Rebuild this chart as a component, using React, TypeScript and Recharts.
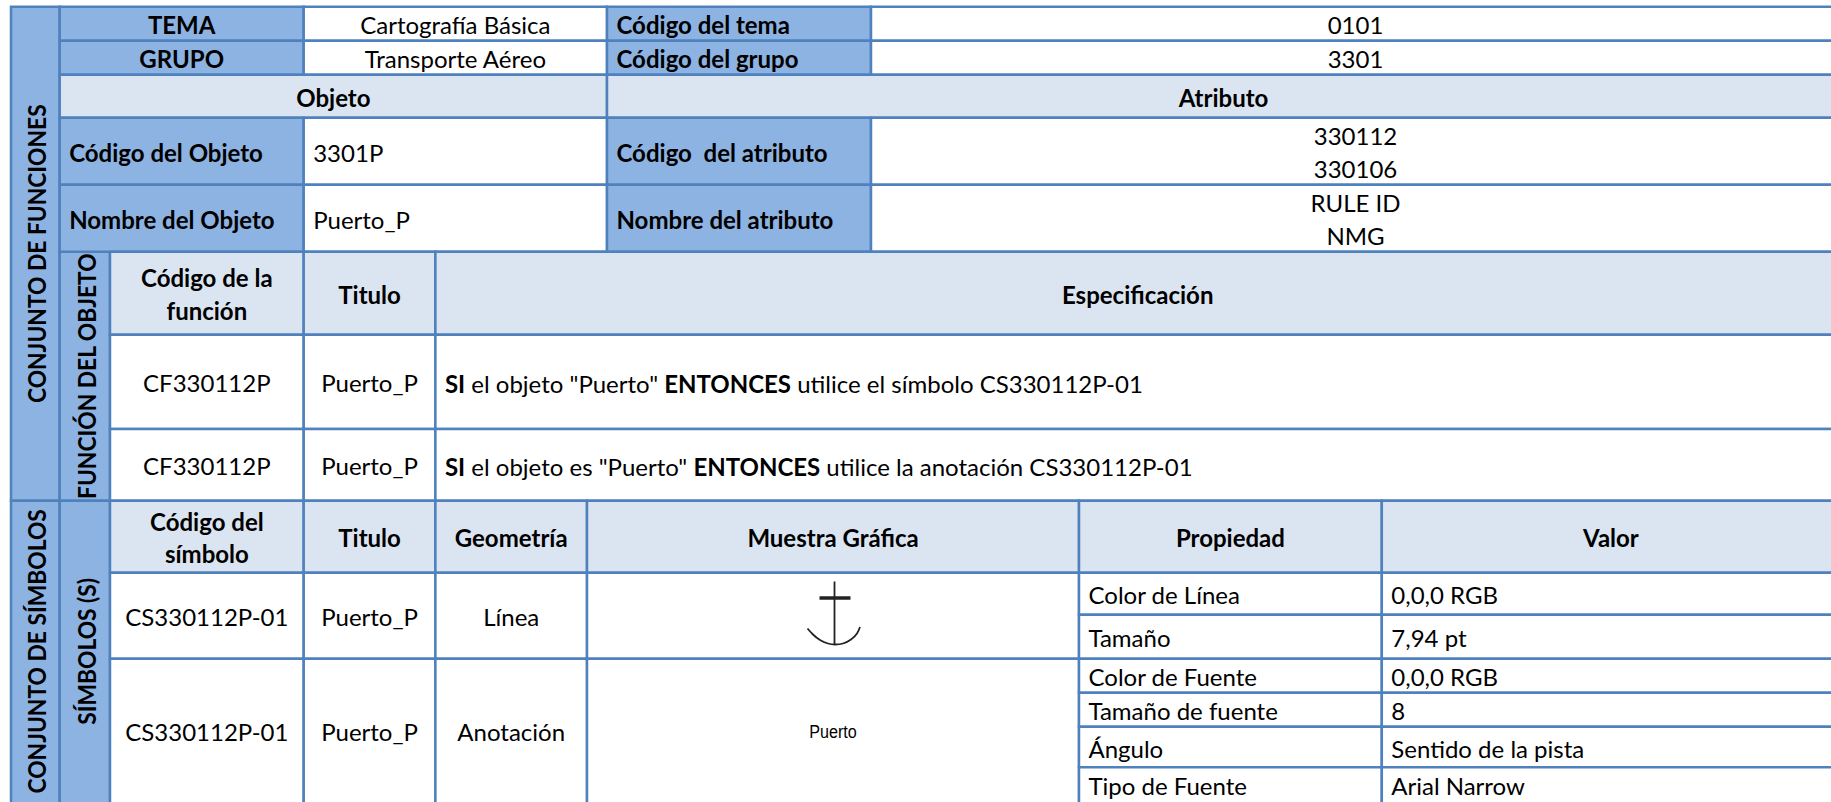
import React from 'react';
import { ComposedChart, XAxis, YAxis, ReferenceArea, Line } from 'recharts';

// tabla de la ficha: textos
const temaRow = ['TEMA', 'Cartografía Básica', 'Código del tema', '0101'];
const grupoRow = ['GRUPO', 'Transporte Aéreo', 'Código del grupo', '3301'];
const sectionHeads = ['Objeto', 'Atributo'];
const objetoCodigo = ['Código del Objeto', '3301P', 'Código  del atributo'];
const objetoNombre = ['Nombre del Objeto', 'Puerto_P', 'Nombre del atributo'];
const atributoCodigos = ['330112', '330106'];
const atributoNombres = ['RULE ID', 'NMG'];
const sideLabels = ['CONJUNTO DE FUNCIONES', 'CONJUNTO DE SÍMBOLOS', 'FUNCIÓN DEL OBJETO', 'SÍMBOLOS (S)'];
const funcionHeads = [['Código de la', 'función'], ['Titulo'], ['Especificación']];
const funcionCodes = ['CF330112P', 'CF330112P'];
const simboloHeads = [['Código del', 'símbolo'], ['Titulo'], ['Geometría'], ['Muestra Gráfica'], ['Propiedad'], ['Valor']];
const simboloCodes = ['CS330112P-01', 'CS330112P-01'];
const geometrias = ['Línea', 'Anotación'];
const titulo = 'Puerto_P';
const muestraTexto = 'Puerto';
const propiedades = ['Color de Línea', 'Tamaño', 'Color de Fuente', 'Tamaño de fuente', 'Ángulo', 'Tipo de Fuente'];
const valores = ['0,0,0 RGB', '7,94 pt', '0,0,0 RGB', '8', 'Sentido de la pista', 'Arial Narrow'];
const reglas = [
  [['SI', true], [' el objeto "Puerto" ', false], ['ENTONCES', true], [' utilice el símbolo CS330112P-01', false]],
  [['SI', true], [' el objeto es "Puerto" ', false], ['ENTONCES', true], [' utilice la anotación CS330112P-01', false]],
] as [string, boolean][][];

// ancla de la muestra grafica
const anchorStem = [{ x: 834.5, y: 581.5 }, { x: 834.5, y: 644 }];
const anchorBar = [{ x: 819.5, y: 598 }, { x: 850.5, y: 598 }];
const anchorArc = [
  { x: 807.5, y: 628.5 }, { x: 813, y: 634.5 }, { x: 820, y: 640 }, { x: 828, y: 643.5 }, { x: 835, y: 644.5 },
  { x: 843, y: 643.5 }, { x: 851, y: 639.5 }, { x: 857, y: 633.5 }, { x: 860, y: 627 },
];

const W = 1840;
const H = 810;
const DARK = '#8db3e2';
const LIGHT = '#dbe5f1';
const WHITE = '#ffffff';
const BORDER = '#4f81bd';
const FONT = 'Lato, sans-serif';
const FONT_SIZE = 24;
const LINE_GAP = 32.5;

// bordes de la cuadricula
const X = { side: 11, sub: 59.7, c1: 110, c2: 303.7, c3: 435.4, c4: 587, c5: 607, c6: 871, c7: 1079, c8: 1381.8, end: W };
const Y = {
  top: 6.7, r1: 40.7, r2: 74.7, r3: 117.7, r4: 184.7, r5: 251.7, r6: 334.7, r7: 429, r8: 500.7, r9: 572.7,
  p1: 614.7, r10: 658.7, p2: 692.7, p3: 726.7, p4: 767.3, end: H,
};

type CellDef = {
  x1: number; x2: number; y1: number; y2: number; fill: string;
  lines?: string[]; runs?: [string, boolean][]; bold?: boolean; align?: 'left' | 'center'; rotate?: boolean; narrow?: boolean;
};

const dark = (x1: number, x2: number, y1: number, y2: number, t: string, align: 'left' | 'center' = 'center'): CellDef =>
  ({ x1, x2, y1, y2, fill: DARK, lines: [t], bold: true, align });
const head = (x1: number, x2: number, y1: number, y2: number, lines: string[]): CellDef =>
  ({ x1, x2, y1, y2, fill: LIGHT, lines, bold: true });
const plain = (x1: number, x2: number, y1: number, y2: number, lines: string[], align: 'left' | 'center' = 'center'): CellDef =>
  ({ x1, x2, y1, y2, fill: WHITE, lines, align });
const side = (x1: number, x2: number, y1: number, y2: number, t: string): CellDef =>
  ({ x1, x2, y1, y2, fill: DARK, lines: [t], bold: true, rotate: true });

const cells: CellDef[] = [
  side(X.side, X.sub, Y.top, Y.r8, sideLabels[0]),
  side(X.side, X.sub, Y.r8, Y.end, sideLabels[1]),
  side(X.sub, X.c1, Y.r5, Y.r8, sideLabels[2]),
  side(X.sub, X.c1, Y.r8, Y.end, sideLabels[3]),

  dark(X.sub, X.c2, Y.top, Y.r1, temaRow[0]),
  plain(X.c2, X.c5, Y.top, Y.r1, [temaRow[1]]),
  dark(X.c5, X.c6, Y.top, Y.r1, temaRow[2], 'left'),
  plain(X.c6, X.end, Y.top, Y.r1, [temaRow[3]]),
  dark(X.sub, X.c2, Y.r1, Y.r2, grupoRow[0]),
  plain(X.c2, X.c5, Y.r1, Y.r2, [grupoRow[1]]),
  dark(X.c5, X.c6, Y.r1, Y.r2, grupoRow[2], 'left'),
  plain(X.c6, X.end, Y.r1, Y.r2, [grupoRow[3]]),
  head(X.sub, X.c5, Y.r2, Y.r3, [sectionHeads[0]]),
  head(X.c5, X.end, Y.r2, Y.r3, [sectionHeads[1]]),

  dark(X.sub, X.c2, Y.r3, Y.r4, objetoCodigo[0], 'left'),
  plain(X.c2, X.c5, Y.r3, Y.r4, [objetoCodigo[1]], 'left'),
  dark(X.c5, X.c6, Y.r3, Y.r4, objetoCodigo[2], 'left'),
  plain(X.c6, X.end, Y.r3, Y.r4, atributoCodigos),
  dark(X.sub, X.c2, Y.r4, Y.r5, objetoNombre[0], 'left'),
  plain(X.c2, X.c5, Y.r4, Y.r5, [objetoNombre[1]], 'left'),
  dark(X.c5, X.c6, Y.r4, Y.r5, objetoNombre[2], 'left'),
  plain(X.c6, X.end, Y.r4, Y.r5, atributoNombres),

  head(X.c1, X.c2, Y.r5, Y.r6, funcionHeads[0]),
  head(X.c2, X.c3, Y.r5, Y.r6, funcionHeads[1]),
  head(X.c3, X.end, Y.r5, Y.r6, funcionHeads[2]),
  plain(X.c1, X.c2, Y.r6, Y.r7, [funcionCodes[0]]),
  plain(X.c2, X.c3, Y.r6, Y.r7, [titulo]),
  { x1: X.c3, x2: X.end, y1: Y.r6, y2: Y.r7, fill: WHITE, runs: reglas[0], align: 'left' },
  plain(X.c1, X.c2, Y.r7, Y.r8, [funcionCodes[1]]),
  plain(X.c2, X.c3, Y.r7, Y.r8, [titulo]),
  { x1: X.c3, x2: X.end, y1: Y.r7, y2: Y.r8, fill: WHITE, runs: reglas[1], align: 'left' },

  head(X.c1, X.c2, Y.r8, Y.r9, simboloHeads[0]),
  head(X.c2, X.c3, Y.r8, Y.r9, simboloHeads[1]),
  head(X.c3, X.c4, Y.r8, Y.r9, simboloHeads[2]),
  head(X.c4, X.c7, Y.r8, Y.r9, simboloHeads[3]),
  head(X.c7, X.c8, Y.r8, Y.r9, simboloHeads[4]),
  head(X.c8, X.end, Y.r8, Y.r9, simboloHeads[5]),

  plain(X.c1, X.c2, Y.r9, Y.r10, [simboloCodes[0]]),
  plain(X.c2, X.c3, Y.r9, Y.r10, [titulo]),
  plain(X.c3, X.c4, Y.r9, Y.r10, [geometrias[0]]),
  plain(X.c4, X.c7, Y.r9, Y.r10, []),
  plain(X.c1, X.c2, Y.r10, Y.end, [simboloCodes[1]]),
  plain(X.c2, X.c3, Y.r10, Y.end, [titulo]),
  plain(X.c3, X.c4, Y.r10, Y.end, [geometrias[1]]),
  { x1: X.c4, x2: X.c7, y1: Y.r10, y2: Y.end, fill: WHITE, lines: [muestraTexto], narrow: true },

  plain(X.c7, X.c8, Y.r9, Y.p1, [propiedades[0]], 'left'),
  plain(X.c8, X.end, Y.r9, Y.p1, [valores[0]], 'left'),
  plain(X.c7, X.c8, Y.p1, Y.r10, [propiedades[1]], 'left'),
  plain(X.c8, X.end, Y.p1, Y.r10, [valores[1]], 'left'),
  plain(X.c7, X.c8, Y.r10, Y.p2, [propiedades[2]], 'left'),
  plain(X.c8, X.end, Y.r10, Y.p2, [valores[2]], 'left'),
  plain(X.c7, X.c8, Y.p2, Y.p3, [propiedades[3]], 'left'),
  plain(X.c8, X.end, Y.p2, Y.p3, [valores[3]], 'left'),
  plain(X.c7, X.c8, Y.p3, Y.p4, [propiedades[4]], 'left'),
  plain(X.c8, X.end, Y.p3, Y.p4, [valores[4]], 'left'),
  plain(X.c7, X.c8, Y.p4, Y.end, [propiedades[5]], 'left'),
  plain(X.c8, X.end, Y.p4, Y.end, [valores[5]], 'left'),
];

function CellText({ viewBox, cell }: any) {
  const { x, y, width, height } = viewBox;
  const { lines = [], runs, bold, align = 'center', rotate, narrow } = cell as CellDef;
  // las celdas que llegan al borde se cortan fuera de la foto
  const cx = x + width / 2;
  const cy = y + (y + height >= H ? 802 - y : height) / 2 + 1;
  const left = align === 'left';
  const tx = left ? x + 9.5 : cx;
  const size = narrow ? 19 : FONT_SIZE;
  const family = narrow ? '"Liberation Sans Narrow", "Liberation Sans", sans-serif' : FONT;
  const sq = narrow ? 0.85 : 1;

  if (runs) {
    return (
      <text transform={`translate(${tx},${cy})`} fontFamily={family} fontSize={size} fill="#000" dominantBaseline="central" style={{ whiteSpace: 'pre' }}>
        {runs.map(([t, b], i) => (
          <tspan key={i} fontWeight={b ? 700 : 400}>{t}</tspan>
        ))}
      </text>
    );
  }
  return (
    <g>
      {lines.map((t, i) => {
        const off = (i - (lines.length - 1) / 2) * LINE_GAP;
        const tr = rotate
          ? `translate(${cx + 1.5},${cy - 1}) rotate(-90) scale(0.95,1)`
          : `translate(${tx},${cy + off}) scale(${sq},1)`;
        return (
          <text
            key={i}
            transform={tr}
            fontFamily={family}
            fontSize={size}
            fontWeight={bold ? 700 : 400}
            fill="#000"
            textAnchor={left ? 'start' : 'middle'}
            dominantBaseline="central"
            style={{ whiteSpace: 'pre' }}
          >
            {t}
          </text>
        );
      })}
    </g>
  );
}

export default function App() {
  return (
    <div style={{ position: 'absolute', top: 0, left: 0, width: 1831, height: 802, overflow: 'hidden', background: '#fff' }}>
      <ComposedChart width={W} height={H} margin={{ top: 0, right: 0, bottom: 0, left: 0 }}>
        <XAxis type="number" dataKey="x" domain={[0, W]} hide allowDataOverflow />
        <YAxis type="number" dataKey="y" domain={[0, H]} reversed hide allowDataOverflow />
        {cells.map((c, i) => (
          <ReferenceArea
            key={i}
            x1={c.x1}
            x2={c.x2}
            y1={c.y1}
            y2={c.y2}
            fill={c.fill}
            fillOpacity={1}
            stroke={BORDER}
            strokeWidth={2.5}
            label={<CellText cell={c} />}
          />
        ))}
        <Line data={anchorStem} dataKey="y" stroke="#222" strokeWidth={1.8} dot={false} activeDot={false} isAnimationActive={false} />
        <Line data={anchorBar} dataKey="y" stroke="#222" strokeWidth={3.5} dot={false} activeDot={false} isAnimationActive={false} />
        <Line data={anchorArc} dataKey="y" type="natural" stroke="#222" strokeWidth={1.8} dot={false} activeDot={false} isAnimationActive={false} />
      </ComposedChart>
    </div>
  );
}
